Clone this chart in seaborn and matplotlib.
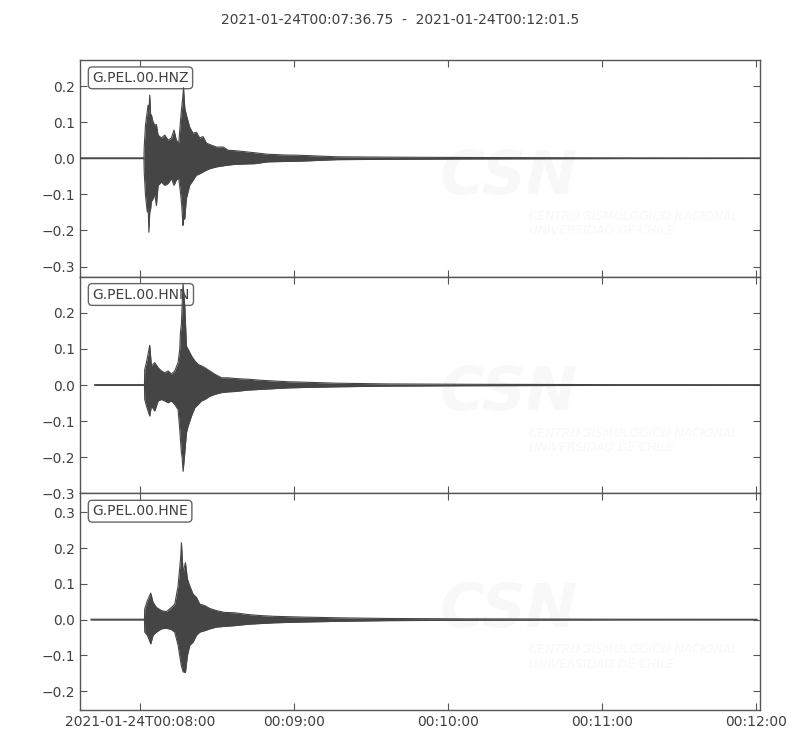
import numpy as np
import pandas as pd
import matplotlib
matplotlib.use("Agg")
import matplotlib.pyplot as plt
import seaborn as sns

# ---------------- data (seconds after 2021-01-24T00:07:36.75) ----------------
title_text = "2021-01-24T00:07:36.75  -  2021-01-24T00:12:01.5"
channels = ["G.PEL.00.HNZ", "G.PEL.00.HNN", "G.PEL.00.HNE"]

t_z = [0, 24.9, 25.0, 25.5, 26.2, 26.5, 26.8, 27.15, 27.5, 27.8, 28.45, 29.1, 29.75,
       30.4, 31.7, 33.0, 34.3, 35.6, 36.6, 37.5, 38.45, 39.2, 39.6, 40.1, 40.3, 40.8,
       41.4, 42.7, 44.0, 45.3, 46.6, 47.9, 49.2, 50.5, 53.1, 55.7, 57.7, 60.3, 64.2,
       68.1, 73.2, 79.7, 86.2, 100, 120, 150, 180, 210, 264.75]
up_z = [0.001, 0.001, 0.03, 0.092, 0.13, 0.147, 0.12, 0.175, 0.12, 0.12, 0.10, 0.092,
        0.093, 0.064, 0.056, 0.064, 0.05, 0.056, 0.078, 0.05, 0.042, 0.11, 0.14, 0.175,
        0.195, 0.139, 0.12, 0.086, 0.069, 0.072, 0.056, 0.06, 0.042, 0.038, 0.031, 0.031,
        0.022, 0.021, 0.018, 0.015, 0.011, 0.009, 0.008, 0.004, 0.003, 0.002, 0.0015,
        0.001, 0.0008]
lo_z = [-0.001, -0.001, -0.038, -0.103, -0.149, -0.12, -0.205, -0.15, -0.14, -0.12,
        -0.112, -0.10, -0.131, -0.075, -0.066, -0.075, -0.07, -0.056, -0.075, -0.06,
        -0.056, -0.10, -0.131, -0.186, -0.17, -0.167, -0.112, -0.075, -0.061, -0.047,
        -0.043, -0.038, -0.033, -0.029, -0.024, -0.021, -0.019, -0.017, -0.016, -0.015,
        -0.010, -0.009, -0.008, -0.004, -0.003, -0.002, -0.0015, -0.001, -0.0008]

t_n = [5.7, 25.1, 25.2, 25.86, 27.15, 27.8, 29.1, 30.4, 31.7, 33.0, 34.3, 35.6, 36.89,
       38.19, 38.84, 39.1, 39.49, 39.75, 40.14, 40.79, 41.44, 42.08, 43.38, 44.68,
       45.98, 47.28, 48.58, 50.53, 52.47, 55.07, 57.67, 60.27, 65.46, 70.66, 75.85,
       81.04, 86.24, 100, 120, 150, 180, 210, 264.75]
up_n = [0.001, 0.001, 0.043, 0.062, 0.110, 0.053, 0.062, 0.048, 0.039, 0.034, 0.039,
        0.030, 0.039, 0.062, 0.10, 0.145, 0.17, 0.219, 0.28, 0.219, 0.108, 0.099, 0.081,
        0.067, 0.057, 0.053, 0.048, 0.039, 0.030, 0.020, 0.020, 0.018, 0.016, 0.013,
        0.011, 0.009, 0.008, 0.005, 0.003, 0.002, 0.0015, 0.001, 0.0008]
lo_n = [-0.001, -0.001, -0.040, -0.058, -0.086, -0.058, -0.072, -0.044, -0.040, -0.044,
        -0.049, -0.044, -0.054, -0.068, -0.123, -0.15, -0.188, -0.20, -0.239, -0.188,
        -0.132, -0.114, -0.086, -0.063, -0.054, -0.044, -0.040, -0.031, -0.026, -0.021,
        -0.019, -0.018, -0.014, -0.012, -0.010, -0.008, -0.007, -0.005, -0.003, -0.002,
        -0.0015, -0.001, -0.0008]

t_e = [4.2, 25.1, 25.2, 26.24, 27.54, 28.45, 29.75, 31.7, 33.65, 35.6, 36.89, 38.19,
       39.23, 39.49, 40.14, 41.05, 41.83, 42.73, 44.03, 45.33, 46.63, 48.58, 50.53,
       53.12, 56.37, 60.27, 65.46, 70.66, 75.85, 81.04, 86.24, 100, 120, 150, 180, 210,
       263.6]
up_e = [0.001, 0.001, 0.030, 0.053, 0.074, 0.048, 0.034, 0.025, 0.022, 0.034, 0.043,
        0.094, 0.178, 0.215, 0.131, 0.159, 0.113, 0.094, 0.071, 0.062, 0.043, 0.039,
        0.031, 0.025, 0.020, 0.019, 0.014, 0.011, 0.009, 0.008, 0.007, 0.005, 0.003,
        0.002, 0.0015, 0.001, 0.0008]
lo_e = [-0.001, -0.001, -0.035, -0.044, -0.068, -0.044, -0.035, -0.026, -0.024,
        -0.028, -0.035, -0.072, -0.119, -0.13, -0.146, -0.148, -0.100, -0.072, -0.063,
        -0.044, -0.035, -0.031, -0.026, -0.021, -0.019, -0.017, -0.013, -0.011, -0.009,
        -0.008, -0.007, -0.005, -0.003, -0.002, -0.0015, -0.001, -0.0008]

y_limits = [(-0.328, 0.272), (-0.30, 0.30), (-0.253, 0.353)]
y_ticks = [[-0.3, -0.2, -0.1, 0.0, 0.1, 0.2],
           [-0.3, -0.2, -0.1, 0.0, 0.1, 0.2],
           [-0.2, -0.1, 0.0, 0.1, 0.2, 0.3]]
x_ticks = [23.25, 83.25, 143.25, 203.25, 263.25]
x_ticklabels = ["2021-01-24T00:08:00", "00:09:00", "00:10:00", "00:11:00", "00:12:00"]
x_limits = (0, 264.75)

# ---------------- style ----------------
sns.set_style("ticks")
plt.rcParams["font.family"] = ["DejaVu Sans"]
TXT = "#404040"
LINE = "#454545"
plt.rcParams.update({
    "xtick.direction": "in", "ytick.direction": "in",
    "xtick.top": True, "ytick.right": True,
    "xtick.color": "#555555", "ytick.color": "#555555",
    "xtick.labelcolor": TXT, "ytick.labelcolor": TXT,
    "axes.edgecolor": "#555555", "axes.linewidth": 1.0,
    "axes.unicode_minus": True,
})

fig, axes = plt.subplots(3, 1, figsize=(8, 7.5), dpi=100, sharex=True)
fig.subplots_adjust(left=0.10, right=0.95, top=0.92, bottom=0.0533, hspace=0)

traces = [(t_z, up_z, lo_z), (t_n, up_n, lo_n), (t_e, up_e, lo_e)]
for i, (ax, (t, up, lo)) in enumerate(zip(axes, traces)):
    df = pd.DataFrame({"t": t, "up": up, "lo": lo})
    ax.fill_between(df["t"], df["lo"], df["up"], color=LINE, linewidth=0, zorder=3)
    sns.lineplot(data=df, x="t", y="up", ax=ax, color=LINE, linewidth=0.8, zorder=3)
    sns.lineplot(data=df, x="t", y="lo", ax=ax, color=LINE, linewidth=0.8, zorder=3)
    ax.set_xlim(*x_limits)
    ax.set_ylim(*y_limits[i])
    ax.set_yticks(y_ticks[i])
    ax.set_yticklabels([f"{v:.1f}".replace("-", "\u2212") for v in y_ticks[i]])
    ax.set_xlabel("")
    ax.set_ylabel("")
    ax.tick_params(axis="both", length=5, width=0.8, labelsize=10,
                   top=True, right=True, direction="in")
    for s in ax.spines.values():
        s.set_visible(True)
    ax.text(0.018, 0.95, channels[i], transform=ax.transAxes, fontsize=10,
            color=TXT, va="top", ha="left", zorder=2,
            bbox=dict(boxstyle="round,pad=0.28", fc="white", ec="#666666", lw=1.0))
    # very faint watermark
    ax.text(0.63, 0.46, "CSN", transform=ax.transAxes, fontsize=44,
            fontstyle="italic", fontweight="bold", color="#f8f8f8",
            ha="center", va="center", zorder=0, clip_on=True)
    ax.text(0.66, 0.245, "CENTRO SISMOLÓGICO NACIONAL\nUNIVERSIDAD DE CHILE",
            transform=ax.transAxes, fontsize=8.8, fontstyle="italic",
            color="#f8f8f8", ha="left", va="center", zorder=0, linespacing=1.15,
            clip_on=True)

axes[-1].set_xticks(x_ticks)
axes[-1].set_xticklabels(x_ticklabels)
for ax in axes[:-1]:
    ax.tick_params(labelbottom=False)

fig.suptitle(title_text, y=0.982, fontsize=10, color=TXT)
fig.savefig("out.png", dpi=100, facecolor="white")
